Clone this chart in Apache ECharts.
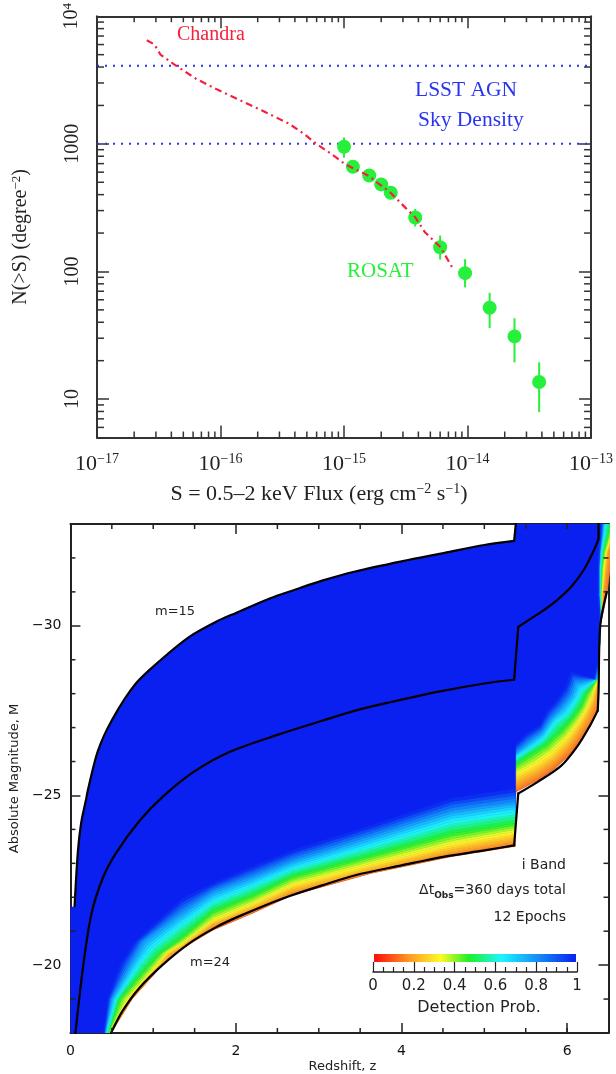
<!DOCTYPE html>
<html><head><meta charset="utf-8">
<style>html,body{margin:0;padding:0;background:#fff}#c{width:616px;height:1074px;filter:blur(0.45px)}</style>
<script src="https://cdn.jsdelivr.net/npm/echarts@6/dist/echarts.min.js"></script>
</head><body><div id="c"></div>
<script>
// ---------- upper panel: log N - log S ----------
const chandraS = [2.53e-17,2.92e-17,3.26e-17,4.21e-17,6.27e-17,9.33e-17,1.39e-16,2.15e-16,3.57e-16,4.78e-16,5.93e-16,7.94e-16,1.02e-15,1.58e-15,2.36e-15,3.15e-15,3.77e-15,4.52e-15,6.04e-15,7.76e-15];
const chandraN = [6494,6000,5012,4198,3258,2673,2234,1832,1442,1191,1005,830,693,562,417,315,266,203,155,102];
const rosatS   = [1.0e-15,1.18e-15,1.6e-15,2.0e-15,2.39e-15,3.77e-15,6.0e-15,9.55e-15,1.51e-14,2.4e-14,3.8e-14];
const rosatN   = [948,661,565,481,414,265,155,97,52,31,13.6];
const rosatLow = [780,610,525,445,385,225,124,75,36,19.4,7.9];
const rosatHigh= [1120,715,605,520,445,309,191,125,68,43,19.4];
const lsstDensity = [4100,1000];
// ---------- lower panel: isolines ----------
const m15Z = [0.05,0.09,0.13,0.19,0.21,0.33,0.51,0.79,1.08,1.44,1.76,2.0,2.4,2.72,3.04,3.44,4.0,4.52,5.0,5.36,5.38];
const m15M = [-21.74,-23.35,-24.2,-24.9,-25.15,-26.3,-27.26,-28.3,-28.97,-29.68,-30.12,-30.38,-30.8,-31.07,-31.33,-31.6,-31.9,-32.15,-32.38,-32.5,-33];
const m15Breaks = [19];
const m191Z = [0.06,0.15,0.25,0.39,0.55,0.83,1.11,1.48,1.92,2.52,3.04,3.44,3.85,4.45,5.0,5.36,5.41,5.65,5.85,6.05,6.21,6.33,6.38,6.38];
const m191M = [-18,-19.9,-21.47,-22.56,-23.3,-24.24,-24.95,-25.68,-26.28,-26.8,-27.2,-27.5,-27.74,-28.06,-28.3,-28.41,-29.97,-30.35,-30.7,-31.15,-31.68,-32.26,-32.56,-33];
const m191Breaks = [15,16,22];
const m24Z = [0.49,0.63,0.83,1.11,1.44,1.76,2.0,2.32,2.64,3.04,3.44,4.0,4.52,5.0,5.36,5.41,5.65,5.93,6.13,6.27,6.37,6.38,6.40,6.48];
const m24M = [-18,-18.65,-19.32,-20,-20.65,-21.12,-21.4,-21.73,-22.03,-22.35,-22.65,-22.94,-23.2,-23.38,-23.53,-25.06,-25.41,-25.88,-26.47,-27.03,-27.5,-28.06,-30,-31];
const m24Breaks = [14,15,20];
const contourProb = [0.12,0.2,0.33,0.47,0.63,0.8,1];
const lowerZ = [
 [0.49,0.485,0.47,0.46,0.43,0.415,0.40],
 [0.745,0.72,0.69,0.59,0.545,0.49,0.45],
 [1.11,1.09,1.04,0.945,0.81,0.71,0.60],
 [1.23,1.21,1.17,1.07,0.99,0.88,0.78],
 [1.35,1.35,1.35,1.35,1.35,1.35,1.35],
 [1.72,1.72,1.72,1.72,1.72,1.72,1.72],
 [2.2,2.2,2.2,2.2,2.2,2.2,2.2],
 [2.68,2.68,2.68,2.68,2.68,2.68,2.68],
 [3.64,3.64,3.64,3.64,3.64,3.64,3.64],
 [4.61,4.61,4.61,4.61,4.61,4.61,4.61],
 [5.375,5.375,5.375,5.375,5.375,5.375,5.375]];
const lowerM = [
 [-18,-18,-18,-18,-18,-18,-18],
 [-19,-19,-19,-19,-19,-19,-19],
 [-20,-20,-20,-20,-20,-20,-20],
 [-20.27,-20.32,-20.4,-20.33,-20.54,-20.72,-20.7],
 [-20.49,-20.54,-20.64,-20.83,-21.23,-21.57,-21.96],
 [-21.03,-21.18,-21.32,-21.59,-21.88,-22.18,-22.41],
 [-21.53,-21.65,-21.82,-22.06,-22.35,-22.62,-22.91],
 [-22.06,-22.18,-22.38,-22.62,-22.85,-23.09,-23.38],
 [-22.71,-22.79,-23.0,-23.24,-23.53,-23.82,-24.12],
 [-23.2,-23.35,-23.59,-23.88,-24.24,-24.56,-24.91],
 [-23.5,-23.68,-23.94,-24.18,-24.53,-24.82,-25.2]];
const upperZ = [
 [5.385,5.385,5.385,5.385,5.385,5.385,5.385],
 [5.65,5.63,5.61,5.57,5.55,5.53,5.51],
 [5.85,5.83,5.81,5.73,5.71,5.69,5.67],
 [6.05,6.03,6.01,5.93,5.85,5.81,5.75],
 [6.19,6.17,6.13,6.07,5.99,5.93,5.87],
 [6.30,6.26,6.22,6.17,6.10,6.04,5.97],
 [6.36,6.33,6.29,6.23,6.17,6.10,6.05],
 [6.375,6.373,6.37,6.368,6.365,6.35,6.32],
 [6.385,6.384,6.384,6.384,6.384,6.382,6.37],
 [6.40,6.40,6.40,6.40,6.40,6.40,6.395],
 [6.44,6.415,6.41,6.405,6.40,6.395,6.39],
 [6.48,6.43,6.415,6.405,6.395,6.385,6.375],
 [6.52,6.47,6.44,6.415,6.395,6.385,6.375],
 [6.55,6.49,6.465,6.44,6.41,6.395,6.385],
 [6.58,6.56,6.53,6.49,6.44,6.42,6.40],
 [6.6,6.58,6.56,6.52,6.46,6.43,6.41]];
const upperM = [
 [-25.11,-25.35,-25.65,-25.94,-26.14,-26.28,-26.53],
 [-25.45,-25.65,-25.94,-26.24,-26.40,-26.58,-26.82],
 [-25.79,-25.99,-26.28,-26.48,-26.68,-26.87,-27.07],
 [-26.24,-26.48,-26.77,-26.92,-27.17,-27.31,-27.46],
 [-26.73,-26.97,-27.17,-27.31,-27.41,-27.61,-27.80],
 [-27.12,-27.36,-27.51,-27.66,-27.80,-27.95,-28.15],
 [-27.46,-27.75,-27.90,-28.0,-28.1,-28.34,-28.64],
 [-28.44,-28.44,-28.44,-28.44,-28.44,-28.44,-28.44],
 [-28.9,-28.9,-28.9,-28.9,-28.9,-28.9,-28.9],
 [-30,-30,-30,-30,-30,-30,-30],
 [-30.44,-30.44,-30.44,-30.44,-30.44,-30.44,-30.44],
 [-30.93,-30.93,-30.93,-30.93,-30.93,-30.93,-30.93],
 [-31.68,-31.68,-31.68,-31.68,-31.68,-31.68,-31.68],
 [-32.18,-32.18,-32.18,-32.18,-32.18,-32.18,-32.18],
 [-32.65,-32.65,-32.65,-32.65,-32.65,-32.65,-32.65],
 [-33,-33,-33,-33,-33,-33,-33]];
const colorStopsP = [0,0.17,0.33,0.47,0.63,1];
const colorStopsRGB = [[255,10,10],[255,150,35],[255,250,40],[30,240,40],[30,245,255],[10,32,240]];
const redshiftTicks = [0,2,4,6];
const magnitudeTicks = [-30,-25,-20];
const redshiftMinor = [0.5,1,1.5,2.5,3,3.5,4.5,5,5.5,6];
const magnitudeMinor = [-32,-31,-29,-28,-27,-26,-24,-23,-22,-21,-19];
const fluxMinor = [2,3,4,5,6,7,8,9];
const fluxDecades = [1e-17,1e-16,1e-15,1e-14];
const countMinor = [6,7,8,9,20,30,40,50,60,70,80,90,200,300,400,500,600,700,800,900,2000,3000,4000,5000,6000,7000,8000,9000];

const serif = '"Liberation Serif","Times New Roman",serif';
const sans = '"DejaVu Sans",sans-serif';
const probColor = p => {
  let i = 0; while (i < colorStopsP.length - 2 && p > colorStopsP[i+1]) i++;
  const t = Math.min(1, Math.max(0, (p - colorStopsP[i]) / (colorStopsP[i+1] - colorStopsP[i])));
  const a = colorStopsRGB[i], b = colorStopsRGB[i+1];
  return `rgb(${[0,1,2].map(k => Math.round(a[k] + (b[k]-a[k])*t)).join(',')})`;
};
const zip = (a,b) => a.map((v,i) => [v,b[i]]);
const sup = {
  b:{fontFamily:serif,fontSize:20,color:'#222'},
  s:{fontFamily:serif,fontSize:13,color:'#222',verticalAlign:'top',lineHeight:22}
};
const supX = {
  b:{fontFamily:serif,fontSize:22,color:'#222'},
  s:{fontFamily:serif,fontSize:14,color:'#222',verticalAlign:'top',lineHeight:24}
};
const quads = [];
[[lowerZ,lowerM],[upperZ,upperM]].forEach(([Z,M]) => {
  for (let j=0;j<Z.length-1;j++) for (let k=0;k<contourProb.length-1;k++) for (let s=0;s<4;s++) {
    const u=s/4,v=(s+1)/4, mix=(a,b,t)=>a+(b-a)*t;
    quads.push([
      mix(Z[j][k],Z[j][k+1],u),mix(M[j][k],M[j][k+1],u),
      mix(Z[j+1][k],Z[j+1][k+1],u),mix(M[j+1][k],M[j+1][k+1],u),
      mix(Z[j+1][k],Z[j+1][k+1],v),mix(M[j+1][k],M[j+1][k+1],v),
      mix(Z[j][k],Z[j][k+1],v),mix(M[j][k],M[j][k+1],v),
      mix(contourProb[k],contourProb[k+1],(s+0.5)/4)]);
  }
});
const fluxMinorValues = [];
fluxDecades.forEach(d => fluxMinor.forEach(m => fluxMinorValues.push(+(d*m).toPrecision(3))));

function minorTicks(xi,yi,xs,ys,lx,ly,stroke){
  return {type:'custom',xAxisIndex:xi,yAxisIndex:yi,silent:true,z:6,
    data:xs.map(v=>[v,0]).concat(ys.map(v=>[v,1])),
    renderItem(p,api){
      const cs=p.coordSys, kind=p.dataIndex<xs.length;
      const v=kind?xs[p.dataIndex]:ys[p.dataIndex-xs.length];
      const t=kind?api.coord([v,ys[0]])[0]:api.coord([xs[0],v])[1];
      const segs=kind?[[t,cs.y,t,cs.y+lx],[t,cs.y+cs.height,t,cs.y+cs.height-lx]]
                     :[[cs.x,t,cs.x+ly,t],[cs.x+cs.width,t,cs.x+cs.width-ly,t]];
      return {type:'group',children:segs.map(s=>({type:'line',shape:{x1:s[0],y1:s[1],x2:s[2],y2:s[3]},style:{stroke,lineWidth:1.5}}))};
    }};
}
function curvePieces(z,m,breaks){
  const cuts=[0,...breaks,z.length-1], out=[];
  for(let i=0;i<cuts.length-1;i++){
    const n=cuts[i+1]-cuts[i];
    out.push({type:'line',xAxisIndex:2,yAxisIndex:2,showSymbol:false,silent:true,z:3,clip:true,smooth:n>2?0.3:false,
      data:zip(z,m).slice(cuts[i],cuts[i+1]+1),lineStyle:{color:'#000',width:2.2,cap:'round'}});
  }
  return out;
}
const axisLineTop={show:true,onZero:false,lineStyle:{color:'#333',width:2}};
const axisLineLow={show:true,onZero:false,lineStyle:{color:'#222',width:2}};
const tickTop={show:true,inside:true,length:12,lineStyle:{color:'#333',width:1.5}};
const tickLow={show:true,inside:true,length:10,lineStyle:{color:'#222',width:1.5}};
const expLabel=v=>{const e=Math.round(Math.log10(v));return `{b|10}{s|\u2212${-e}}`;};
const cntLabel=v=>{if(v<9)return '';if(v>5000)return '{b|10}{s|4}';return '{b|'+Math.round(v)+'}';};

const option={
  animation:false,backgroundColor:'#fff',
  grid:[
    {left:97,top:15,width:499.5,height:422.5,containLabel:false},
    {left:67.5,top:524,width:541,height:511,containLabel:false},
    {left:373,top:954,width:204,height:18,containLabel:false}
  ],
  xAxis:[
    {type:'log',logBase:10,gridIndex:0,min:1e-17,max:1e-13,position:'bottom',axisLine:axisLineTop,axisTick:tickTop,splitLine:{show:false},
     axisLabel:{formatter:expLabel,rich:supX,margin:15,color:'#222',fontFamily:serif,fontSize:22},
     name:'{b|S = 0.5\u20132 keV Flux (erg cm}{s|\u22122}{b| s}{s|\u22121}{b|)}',nameLocation:'middle',nameGap:45,nameTextStyle:{rich:supX,padding:[0,50,0,0]}},
    {type:'log',logBase:10,gridIndex:0,min:1e-17,max:1e-13,position:'top',axisLine:axisLineTop,axisTick:tickTop,splitLine:{show:false},axisLabel:{show:false}},
    {type:'value',gridIndex:1,min:0,max:6.5,position:'bottom',axisLine:axisLineLow,axisTick:{...tickLow,customValues:redshiftTicks},splitLine:{show:false},
     axisLabel:{customValues:redshiftTicks,fontFamily:sans,fontSize:14,color:'#111',margin:11},
     name:'Redshift, z',nameLocation:'middle',nameGap:27,nameTextStyle:{fontFamily:sans,fontSize:13,color:'#222',padding:[0,0,0,6]}},
    {type:'value',gridIndex:1,min:0,max:6.5,position:'top',axisLine:axisLineLow,axisTick:{...tickLow,customValues:redshiftTicks},splitLine:{show:false},axisLabel:{show:false}},
    {type:'value',gridIndex:2,min:0,max:1,interval:0.2,position:'bottom',axisLine:{show:true,onZero:false,lineStyle:{color:'#222',width:1.5}},
     axisTick:{show:true,inside:true,length:10,lineStyle:{color:'#222',width:1.2}},minorTick:{show:true,splitNumber:4,length:5,lineStyle:{color:'#222',width:1.2}},splitLine:{show:false},
     axisLabel:{fontFamily:sans,fontSize:15,color:'#222',margin:7,hideOverlap:false},
     name:'Detection Prob.',nameLocation:'middle',nameGap:28,nameTextStyle:{fontFamily:sans,fontSize:16,color:'#222',padding:[0,0,0,8]}}
  ],
  yAxis:[
    {type:'log',logBase:10,gridIndex:0,min:5,max:10000,position:'left',axisLine:axisLineTop,axisTick:tickTop,splitLine:{show:false},
     axisLabel:{formatter:cntLabel,rich:sup,rotate:90,margin:14,color:'#222',fontFamily:serif,fontSize:20},
     name:'{b|N(>S) (degree}{s|\u22122}{b|)}',nameLocation:'middle',nameGap:65,nameTextStyle:{rich:sup,padding:[0,20,0,0]}},
    {type:'log',logBase:10,gridIndex:0,min:5,max:10000,position:'right',axisLine:axisLineTop,axisTick:tickTop,splitLine:{show:false},axisLabel:{show:false}},
    {type:'value',gridIndex:1,min:-33,max:-18,inverse:true,position:'left',axisLine:axisLineLow,axisTick:{...tickLow,customValues:magnitudeTicks},splitLine:{show:false},
     axisLabel:{customValues:magnitudeTicks,fontFamily:sans,fontSize:14,color:'#111',margin:9,formatter:v=>'\u2212'+Math.abs(v)},
     name:'Absolute Magnitude, M',nameLocation:'middle',nameGap:43,nameTextStyle:{fontFamily:sans,fontSize:13,color:'#222'}},
    {type:'value',gridIndex:1,min:-33,max:-18,inverse:true,position:'right',axisLine:axisLineLow,axisTick:{...tickLow,customValues:magnitudeTicks},splitLine:{show:false},axisLabel:{show:false}},
    {type:'value',gridIndex:2,min:0,max:18,show:false}
  ],
  series:[
    minorTicks(0,0,fluxMinorValues,countMinor,6,7,'#333'),
    ...lsstDensity.map(d=>({type:'line',xAxisIndex:0,yAxisIndex:0,showSymbol:false,silent:true,z:2,
      data:[[1e-17,d],[1e-13,d]],lineStyle:{color:'#2a35f0',width:2,type:[2,6]}})),
    {type:'custom',xAxisIndex:0,yAxisIndex:0,silent:true,z:3,data:rosatS.map((s,i)=>[s,rosatLow[i],rosatHigh[i]]),
     renderItem(p,api){const a=api.coord([api.value(0),api.value(1)]),b=api.coord([api.value(0),api.value(2)]);
       return {type:'line',shape:{x1:a[0],y1:a[1],x2:b[0],y2:b[1]},style:{stroke:'#2aee3a',lineWidth:2}};}},
    {type:'scatter',xAxisIndex:0,yAxisIndex:0,silent:true,z:4,data:zip(rosatS,rosatN),symbol:'circle',symbolSize:14,itemStyle:{color:'#26f03c',opacity:1}},
    {type:'line',xAxisIndex:0,yAxisIndex:0,showSymbol:false,silent:true,z:5,data:zip(chandraS,chandraN),lineStyle:{color:'#f5203c',width:2.2,type:[7,4,2,4]}},

    {type:'custom',xAxisIndex:2,yAxisIndex:2,clip:true,silent:true,z:1,data:[[0,-18]],
     renderItem(p,api){
       const pts=[[0,-18],[0,-21.7],...zip(m15Z,m15M),[6.6,-33]];
       for(let j=upperZ.length-1;j>=0;j--)pts.push([upperZ[j][0],upperM[j][0]]);
       for(let j=lowerZ.length-1;j>=0;j--)pts.push([lowerZ[j][0],lowerM[j][0]]);
       return {type:'polygon',shape:{points:pts.map(q=>api.coord(q))},style:{fill:probColor(1)}};
     }},
    {type:'custom',xAxisIndex:2,yAxisIndex:2,clip:true,silent:true,z:2,data:quads,
     renderItem(p,api){
       const pts=[0,2,4,6].map(i=>api.coord([api.value(i),api.value(i+1)]));
       const c=probColor(api.value(8));
       return {type:'polygon',shape:{points:pts},style:{fill:c,stroke:c,lineWidth:0.6}};
     }},
    ...curvePieces(m15Z,m15M,m15Breaks),
    ...curvePieces(m191Z,m191M,m191Breaks),
    ...curvePieces(m24Z,m24M,m24Breaks),
    minorTicks(2,2,redshiftMinor,magnitudeMinor,5,5,'#222'),
    {type:'custom',xAxisIndex:4,yAxisIndex:4,silent:true,data:[[0,10]],
     renderItem(p,api){
       const a=api.coord([0.005,18]),b=api.coord([0.995,10]);
       return {type:'rect',shape:{x:a[0],y:a[1],width:b[0]-a[0],height:b[1]-a[1]},
         style:{fill:new echarts.graphic.LinearGradient(0,0,1,0,colorStopsP.map(o=>({offset:o,color:probColor(o)})))}};
     }}
  ],
  graphic:[
    {type:'text',left:177,top:25,style:{text:'Chandra',font:`20px ${serif}`,fill:'#f5203c'}},
    {type:'text',left:415,top:79,style:{text:'LSST AGN',font:`21.5px ${serif}`,fill:'#2a35f0'}},
    {type:'text',left:418,top:109,style:{text:'Sky Density',font:`21.5px ${serif}`,fill:'#2a35f0'}},
    {type:'text',left:347,top:261,style:{text:'ROSAT',font:`21px ${serif}`,fill:'#2aee3a'}},
    {type:'text',left:155,top:605,style:{text:'m=15',font:`13px ${sans}`,fill:'#222'}},
    {type:'text',left:142,top:751,style:{text:'m=19.1',font:`13px ${sans}`,fill:'#fff'}},
    {type:'text',left:190,top:956,style:{text:'m=24',font:`13px ${sans}`,fill:'#222'}},
    {type:'text',right:50,top:858,style:{text:'i Band',font:`14px ${sans}`,fill:'#222'}},
    {type:'text',right:50,top:883,style:{text:'\u0394t{u|Obs}=360 days total',font:`14px ${sans}`,fill:'#222',
      rich:{u:{fontFamily:sans,fontSize:9,fontWeight:'bold',verticalAlign:'bottom',lineHeight:20,fill:'#222'}}}},
    {type:'text',right:50,top:910,style:{text:'12 Epochs',font:`14px ${sans}`,fill:'#222'}}
  ]
};
const chart=echarts.init(document.getElementById('c'),null,{renderer:'canvas',width:616,height:1074});
chart.setOption(option);
</script></body></html>
